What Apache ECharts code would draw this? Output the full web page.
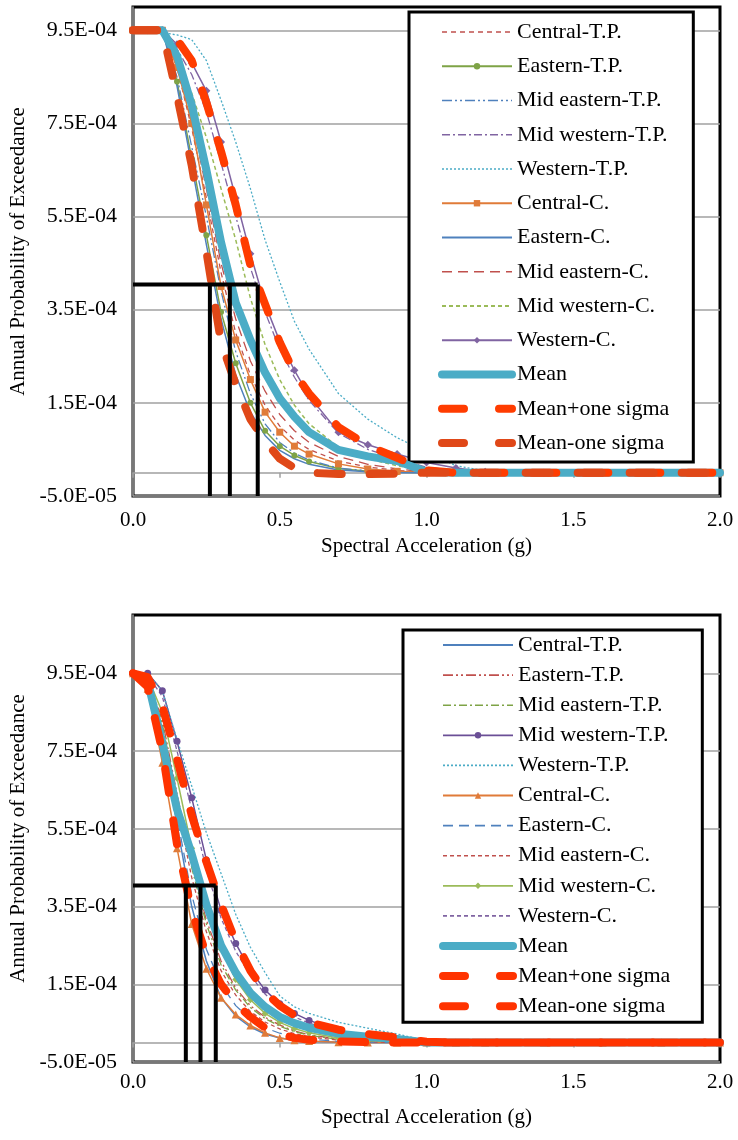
<!DOCTYPE html>
<html>
<head>
<meta charset="utf-8">
<script src="https://cdn.jsdelivr.net/npm/echarts@6/dist/echarts.min.js"></script>
<style>
  html, body { margin: 0; padding: 0; background: #fff; }
  #top, #bottom { width: 738px; height: 570px; }
</style>
</head>
<body>
<div id="top"></div>
<div id="bottom"></div>
<script>
// Spectral acceleration (g) at which each hazard curve is sampled
const SA = [0, 0.05, 0.1, 0.15, 0.2, 0.25, 0.3, 0.35, 0.4, 0.45, 0.5, 0.55, 0.6,
            0.7, 0.8, 0.9, 1.0, 1.1, 1.2, 1.4, 1.6, 1.8, 2.0];
// Annual probabilities are listed in units of 1E-04
const UNIT = 1e-4;

const SERIES_NAMES = ['Central-T.P.', 'Eastern-T.P.', 'Mid eastern-T.P.', 'Mid western-T.P.',
  'Western-T.P.', 'Central-C.', 'Eastern-C.', 'Mid eastern-C.', 'Mid western-C.', 'Western-C.',
  'Mean', 'Mean+one sigma', 'Mean-one sigma'];

// ---- upper panel ----
const topCentralTP    = [9.5, 9.5, 9.5, 8.7, 7.4, 5.9, 4.3, 3.0, 2.1, 1.45, 1.0, 0.7, 0.5, 0.25, 0.12, 0.05, 0.01, 0, 0, 0, 0, 0, 0];
const topEasternTP    = [9.5, 9.5, 9.5, 8.4, 6.75, 5.1, 3.45, 2.35, 1.5, 0.9, 0.57, 0.37, 0.24, 0.09, 0.03, 0.01, 0, 0, 0, 0, 0, 0, 0];
const topMidEasternTP = [9.5, 9.5, 9.5, 8.5, 7.0, 5.5, 3.9, 2.6, 1.7, 1.05, 0.65, 0.42, 0.27, 0.1, 0.04, 0.01, 0, 0, 0, 0, 0, 0, 0];
const topMidWesternTP = [9.5, 9.5, 9.5, 9.1, 8.55, 7.75, 6.65, 5.5, 4.4, 3.45, 2.65, 2.05, 1.55, 0.85, 0.5, 0.3, 0.12, 0.04, 0, 0, 0, 0, 0];
const topWesternTP    = [9.5, 9.45, 9.45, 9.4, 9.3, 8.85, 8.0, 7.1, 6.1, 5.0, 4.1, 3.25, 2.65, 1.7, 1.15, 0.75, 0.45, 0.15, 0.04, 0, 0, 0, 0];
const topCentralC     = [9.5, 9.5, 9.5, 8.7, 7.5, 5.75, 4.0, 2.85, 2.0, 1.3, 0.87, 0.57, 0.4, 0.19, 0.08, 0.03, 0, 0, 0, 0, 0, 0, 0];
const topEasternC     = [9.5, 9.5, 9.5, 8.3, 6.6, 4.9, 3.3, 2.1, 1.3, 0.8, 0.48, 0.3, 0.18, 0.06, 0.02, 0, 0, 0, 0, 0, 0, 0, 0];
const topMidEasternC  = [9.5, 9.5, 9.5, 8.8, 7.6, 6.1, 4.5, 3.3, 2.4, 1.75, 1.25, 0.9, 0.65, 0.35, 0.18, 0.08, 0.02, 0, 0, 0, 0, 0, 0];
const topMidWesternC  = [9.5, 9.5, 9.5, 8.9, 8.15, 7.2, 6.1, 5.0, 3.75, 2.75, 2.0, 1.45, 1.05, 0.55, 0.3, 0.15, 0.05, 0, 0, 0, 0, 0, 0];
const topWesternC     = [9.5, 9.5, 9.5, 9.2, 8.8, 8.2, 7.1, 5.9, 4.7, 3.62, 2.82, 2.2, 1.65, 0.87, 0.6, 0.4, 0.22, 0.1, 0.02, 0, 0, 0, 0];
const topMean         = [9.5, 9.5, 9.5, 8.95, 7.9, 6.5, 4.95, 3.65, 2.85, 2.15, 1.6, 1.2, 0.87, 0.49, 0.35, 0.25, 0.02, 0, 0, 0, 0, 0, 0];
const topMeanPlus     = [9.5, 9.5, 9.5, 9.3, 8.85, 7.95, 6.9, 5.75, 4.45, 3.62, 2.8, 2.15, 1.7, 0.98, 0.58, 0.32, 0.05, 0, 0, 0, 0, 0, 0];
const topMeanMinus    = [9.5, 9.5, 9.5, 8.1, 6.6, 4.75, 2.8, 1.9, 1.15, 0.68, 0.3, 0.1, 0, -0.03, -0.03, -0.02, 0, 0, 0, 0, 0, 0, 0];

// ---- lower panel ----
const botCentralTP    = [9.5, 9.3, 7.8, 5.6, 3.5, 2.1, 1.15, 0.68, 0.4, 0.22, 0.12, 0.06, 0.03, 0.01, 0, 0, 0, 0, 0, 0, 0, 0, 0];
const botEasternTP    = [9.5, 9.35, 8.3, 6.4, 4.6, 3.15, 2.1, 1.4, 0.95, 0.65, 0.45, 0.3, 0.2, 0.09, 0.04, 0.015, 0, 0, 0, 0, 0, 0, 0];
const botMidEasternTP = [9.5, 9.35, 8.2, 6.3, 4.5, 3.05, 2.0, 1.35, 0.9, 0.62, 0.42, 0.28, 0.19, 0.08, 0.03, 0.01, 0, 0, 0, 0, 0, 0, 0];
const botMidWesternTP = [9.5, 9.5, 9.05, 7.75, 6.3, 4.7, 3.4, 2.55, 1.86, 1.35, 1.0, 0.75, 0.57, 0.31, 0.18, 0.09, 0.02, 0, 0, 0, 0, 0, 0];
const botWesternTP    = [9.5, 9.5, 9.05, 7.8, 6.6, 5.4, 4.35, 3.3, 2.45, 1.8, 1.2, 0.92, 0.75, 0.52, 0.37, 0.22, 0.05, 0, 0, 0, 0, 0, 0];
const botCentralC     = [9.5, 9.1, 7.2, 5.0, 3.05, 1.9, 1.15, 0.72, 0.44, 0.25, 0.12, 0.06, 0.04, 0.01, 0, 0, 0, 0, 0, 0, 0, 0, 0];
const botEasternC     = [9.5, 9.3, 7.9, 5.8, 3.8, 2.4, 1.5, 0.95, 0.6, 0.38, 0.24, 0.15, 0.09, 0.03, 0.01, 0, 0, 0, 0, 0, 0, 0, 0];
const botMidEasternC  = [9.5, 9.35, 8.1, 6.1, 4.25, 2.85, 1.85, 1.22, 0.8, 0.53, 0.35, 0.23, 0.15, 0.06, 0.02, 0, 0, 0, 0, 0, 0, 0, 0];
const botMidWesternC  = [9.5, 9.4, 8.5, 6.8, 5.0, 3.5, 2.4, 1.62, 1.1, 0.75, 0.52, 0.36, 0.25, 0.12, 0.05, 0.02, 0, 0, 0, 0, 0, 0, 0];
const botWesternC     = [9.5, 9.45, 8.9, 7.5, 6.0, 4.45, 3.2, 2.35, 1.72, 1.25, 0.9, 0.66, 0.5, 0.27, 0.15, 0.07, 0.01, 0, 0, 0, 0, 0, 0];
const botMean         = [9.5, 9.3, 7.7, 6.0, 4.85, 3.55, 2.5, 1.8, 1.28, 0.92, 0.66, 0.5, 0.38, 0.23, 0.15, 0.09, 0, 0, 0, 0, 0, 0, 0];
const botMeanPlus     = [9.5, 9.4, 8.65, 7.3, 5.85, 4.65, 3.55, 2.6, 1.85, 1.3, 0.95, 0.7, 0.52, 0.33, 0.22, 0.13, 0.02, 0, 0, 0, 0, 0, 0];
const botMeanMinus    = [9.5, 9.15, 7.5, 5.1, 3.4, 2.25, 1.5, 1.0, 0.66, 0.38, 0.22, 0.12, 0.07, 0.03, 0.01, 0, 0, 0, 0, 0, 0, 0, 0];

// Y tick labels
const Y_TICKS = [-5e-5, 1.5e-4, 3.5e-4, 5.5e-4, 7.5e-4, 9.5e-4];
const Y_MIN = -5e-5;
const TOP_Y_MAX = 1.0e-3;
const BOT_Y_MAX = 1.1e-3;

// Design level (annual probability) and the accelerations where the
// mean-sigma, mean and mean+sigma curves cross it
const REF_POE = 4.04e-4;
const TOP_REF_SA = [0.262, 0.33, 0.425];
const BOT_REF_SA = [0.18, 0.23, 0.282];

const FONT = "'Liberation Serif', 'Times New Roman', serif";

// Line styles of each curve
const RED = '#C0504D', GREEN = '#9BBB59', GREEN_D = '#7EA346', BLUE = '#4F81BD',
      PURPLE = '#8064A2', TEAL = '#4BACC6', ORANGE = '#E07B39';
const DASH_PLUS = [24, 28];

const TOP_STYLES = [
  { color: RED, width: 1.3, type: [5, 4] },
  { color: GREEN_D, width: 1.5, type: 'solid', symbol: 'circle', symbolSize: 6 },
  { color: BLUE, width: 1.3, type: [10, 3, 2, 3, 2, 3] },
  { color: PURPLE, width: 1.3, type: [8, 3, 2, 3] },
  { color: TEAL, width: 1.3, type: [2, 2] },
  { color: ORANGE, width: 1.5, type: 'solid', symbol: 'rect', symbolSize: 7 },
  { color: BLUE, width: 1.5, type: 'solid' },
  { color: RED, width: 1.3, type: [10, 6] },
  { color: GREEN, width: 1.5, type: [4, 3] },
  { color: PURPLE, width: 1.5, type: 'solid', symbol: 'diamond', symbolSize: 8 },
  { color: TEAL, width: 8, type: 'solid', thick: true },
  { color: '#FF3C00', width: 8, type: DASH_PLUS, thick: true },
  { color: '#E04818', width: 8, type: DASH_PLUS, thick: true }
];

const BOT_STYLES = [
  { color: BLUE, width: 1.5, type: 'solid' },
  { color: RED, width: 1.3, type: [10, 3, 2, 3, 2, 3] },
  { color: GREEN_D, width: 1.3, type: [8, 3, 2, 3] },
  { color: '#6B4F96', width: 1.5, type: 'solid', symbol: 'circle', symbolSize: 7 },
  { color: TEAL, width: 1.3, type: [2, 2] },
  { color: ORANGE, width: 1.5, type: 'solid', symbol: 'triangle', symbolSize: 8 },
  { color: BLUE, width: 1.3, type: [10, 6] },
  { color: RED, width: 1.3, type: [4, 3] },
  { color: GREEN, width: 1.5, type: 'solid', symbol: 'diamond', symbolSize: 7 },
  { color: PURPLE, width: 1.3, type: [4, 3] },
  { color: TEAL, width: 8, type: 'solid', thick: true },
  { color: '#FF3300', width: 8, type: DASH_PLUS, thick: true },
  { color: '#FF3300', width: 8, type: DASH_PLUS, thick: true }
];

function sci(v) {
  const parts = Number(v).toExponential(1).split('e');
  const e = parseInt(parts[1], 10);
  return parts[0] + 'E' + (e < 0 ? '-' : '+') + String(Math.abs(e)).padStart(2, '0');
}

function curve(name, vals, st) {
  return {
    name: name,
    type: 'line',
    // thin curves underneath, the mean and sigma bands on top of their markers
    z: st.thick ? 4 : 2,
    data: SA.map((x, i) => [x, vals[i] * UNIT]),
    symbol: st.symbol || 'none',
    symbolSize: st.symbolSize || 0,
    showSymbol: !!st.symbol,
    itemStyle: { color: st.color },
    lineStyle: { color: st.color, width: st.width, type: st.type, cap: st.thick ? 'round' : 'butt', join: 'round' },
    emphasis: { disabled: true },
    silent: true
  };
}

function refLines(refSA) {
  const out = [];
  const black = { color: '#000', width: 4, type: 'solid' };
  out.push({
    name: 'design level', type: 'line', symbol: 'none', silent: true, z: 5,
    data: [[0, REF_POE], [Math.max.apply(null, refSA), REF_POE]],
    lineStyle: black, itemStyle: { color: '#000' }, emphasis: { disabled: true }
  });
  refSA.forEach((g, k) => {
    out.push({
      name: 'design sa ' + k, type: 'line', symbol: 'none', silent: true, z: 5,
      data: [[g, REF_POE], [g, Y_MIN]],
      lineStyle: black, itemStyle: { color: '#000' }, emphasis: { disabled: true }
    });
  });
  return out;
}

function buildOption(cfg) {
  const series = cfg.values.map((vals, i) => curve(SERIES_NAMES[i], vals, cfg.styles[i]))
    .concat(refLines(cfg.refSA));
  const legendData = SERIES_NAMES.map((n, i) => {
    const st = cfg.styles[i];
    const item = { name: n };
    if (st.thick) {
      item.lineStyle = { width: 8, cap: 'round', type: st.type === 'solid' ? 'solid' : [22, 35] };
    } else {
      item.lineStyle = { width: st.width + 0.3 };
    }
    if (!st.symbol) {
      item.itemStyle = { opacity: 0 };
    }
    return item;
  });
  return {
    animation: false,
    textStyle: { fontFamily: FONT },
    grid: {
      left: 133, top: cfg.gridTop, width: 587, height: cfg.gridHeight,
      outerBoundsMode: 'none', containLabel: false,
      show: true, borderColor: '#000', borderWidth: 3, backgroundColor: 'transparent'
    },
    xAxis: {
      type: 'value', min: 0, max: 2, interval: 0.5,
      name: 'Spectral Acceleration (g)', nameLocation: 'middle', nameGap: cfg.xNameGap,
      nameTextStyle: { fontSize: 21, color: '#000', fontFamily: FONT },
      axisLine: { show: true, onZero: true, lineStyle: { color: '#a0a0a0', width: 1.5 } },
      axisTick: { show: true, length: 5, lineStyle: { color: '#a0a0a0', width: 1.5 } },
      axisLabel: { margin: cfg.xLabelMargin, fontSize: 21, color: '#000', fontFamily: FONT,
                   formatter: v => Number(v).toFixed(1) },
      splitLine: { show: false }
    },
    yAxis: {
      type: 'value', min: Y_MIN, max: cfg.yMax,
      name: 'Annual Probability of Exceedance', nameLocation: 'middle', nameGap: 100,
      nameTextStyle: { fontSize: 21, color: '#000', fontFamily: FONT },
      axisLine: { show: true, onZero: false, lineStyle: { color: '#a0a0a0', width: 1.5 } },
      axisTick: { show: false, customValues: Y_TICKS },
      axisLabel: { customValues: Y_TICKS, formatter: sci, margin: 16, fontSize: 22,
                   color: '#000', fontFamily: FONT },
      splitLine: { show: true, lineStyle: { color: '#a0a0a0', width: 1.5 } }
    },
    legend: {
      orient: 'vertical', left: cfg.legend.left, top: cfg.legend.top,
      padding: cfg.legend.padding, itemGap: cfg.legend.itemGap,
      itemWidth: 70, itemHeight: 8,
      backgroundColor: '#fff', borderColor: '#000', borderWidth: 3,
      selectedMode: false,
      textStyle: { fontSize: 22, color: '#000', fontFamily: FONT, lineHeight: 22 },
      data: legendData
    },
    series: series
  };
}

const topChart = echarts.init(document.getElementById('top'), null, { renderer: 'canvas' });
topChart.setOption(buildOption({
  gridTop: 7, gridHeight: 489, yMax: TOP_Y_MAX,
  xLabelMargin: 14, xNameGap: 36,
  values: [topCentralTP, topEasternTP, topMidEasternTP, topMidWesternTP, topWesternTP,
           topCentralC, topEasternC, topMidEasternC, topMidWesternC, topWesternC,
           topMean, topMeanPlus, topMeanMinus],
  styles: TOP_STYLES,
  refSA: TOP_REF_SA,
  legend: { left: 409, top: 12, padding: [9, 24, 8, 29], itemGap: 12.25 }
}));

const botChart = echarts.init(document.getElementById('bottom'), null, { renderer: 'canvas' });
botChart.setOption(buildOption({
  gridTop: 45, gridHeight: 447, yMax: BOT_Y_MAX,
  xLabelMargin: 10, xNameGap: 45,
  values: [botCentralTP, botEasternTP, botMidEasternTP, botMidWesternTP, botWesternTP,
           botCentralC, botEasternC, botMidEasternC, botMidWesternC, botWesternC,
           botMean, botMeanPlus, botMeanMinus],
  styles: BOT_STYLES,
  refSA: BOT_REF_SA,
  legend: { left: 403, top: 60, padding: [4, 32, 5, 36], itemGap: 8.1 }
}));
</script>
</body>
</html>
